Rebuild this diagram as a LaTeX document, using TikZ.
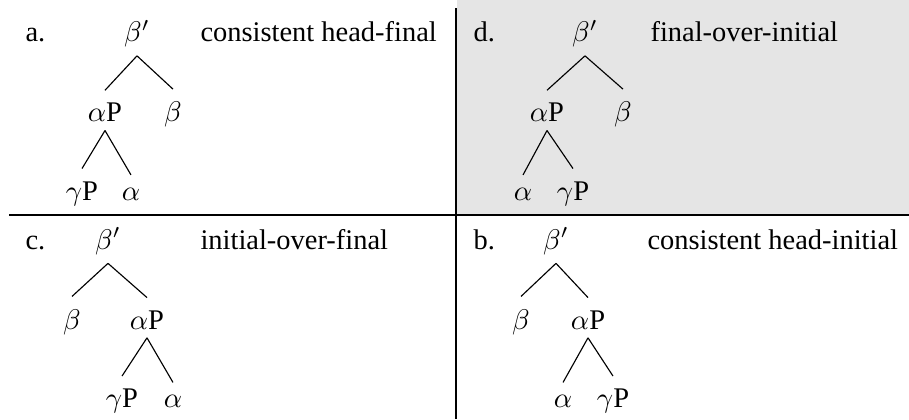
\documentclass[tikz,border=0pt]{standalone}
\usepackage{fontspec}
\setmainfont{Liberation Serif}
\begin{document}
\begin{tikzpicture}[x=0.3515pt,y=-0.3515pt,
  lab/.style={anchor=base west,inner sep=0pt,font=\fontsize{10}{12}\selectfont},
  tn/.style={anchor=base,inner sep=2.9pt,font=\fontsize{10}{12}\selectfont},
  edge/.style={draw=black,line width=0.4pt},
  sep/.style={draw=black,line width=0.6pt}]
\useasboundingbox (0,0) rectangle (909,419);
\fill[gray!20] (457,0) rectangle (909,215);
\draw[sep] (9,215) -- (909,215);
\draw[sep] (456,8) -- (456,419);

% panel a
\node[lab] (la) at (25,41.5) {a.};
\node[lab] (ta) at (200,41.5) {consistent head-final};
\node[tn] (a0) at (137,41.5) {$\beta'$};
\node[tn] (a1) at (105,121.7) {$\alpha$P};
\node[tn] (a2) at (173,121.7) {$\beta$};
\node[tn] (a3) at (82,200) {$\gamma$P};
\node[tn] (a4) at (131,200) {$\alpha$};
\draw[edge] (a0.south) -- ([yshift=1.4pt]a1.north);
\draw[edge] (a0.south) -- ([yshift=1.4pt]a2.north);
\draw[edge] (a1.south) -- ([yshift=1.4pt]a3.north);
\draw[edge] (a1.south) -- ([yshift=1.4pt]a4.north);

% panel d
\node[lab] (ld) at (473,41.5) {d.};
\node[lab] (td) at (650,41.5) {final-over-initial};
\node[tn] (d0) at (585,41.5) {$\beta'$};
\node[tn] (d1) at (547,121.7) {$\alpha$P};
\node[tn] (d2) at (623,121.7) {$\beta$};
\node[tn] (d3) at (523,200) {$\alpha$};
\node[tn] (d4) at (573,200) {$\gamma$P};
\draw[edge] (d0.south) -- ([yshift=1.4pt]d1.north);
\draw[edge] (d0.south) -- ([yshift=1.4pt]d2.north);
\draw[edge] (d1.south) -- ([yshift=1.4pt]d3.north);
\draw[edge] (d1.south) -- ([yshift=1.4pt]d4.north);

% panel c
\node[lab] (lc) at (25,249) {c.};
\node[lab] (tc) at (200,249) {initial-over-final};
\node[tn] (c0) at (108,249) {$\beta'$};
\node[tn] (c1) at (72,329) {$\beta$};
\node[tn] (c2) at (147,329) {$\alpha$P};
\node[tn] (c3) at (122,407.5) {$\gamma$P};
\node[tn] (c4) at (173,407.5) {$\alpha$};
\draw[edge] (c0.south) -- ([yshift=1.4pt]c1.north);
\draw[edge] (c0.south) -- ([yshift=1.4pt]c2.north);
\draw[edge] (c2.south) -- ([yshift=1.4pt]c3.north);
\draw[edge] (c2.south) -- ([yshift=1.4pt]c4.north);

% panel b
\node[lab] (lb) at (473,249) {b.};
\node[lab] (tb) at (647,249) {consistent head-initial};
\node[tn] (b0) at (556,249) {$\beta'$};
\node[tn] (b1) at (521,329) {$\beta$};
\node[tn] (b2) at (588,329) {$\alpha$P};
\node[tn] (b3) at (563,407.5) {$\alpha$};
\node[tn] (b4) at (613,407.5) {$\gamma$P};
\draw[edge] (b0.south) -- ([yshift=1.4pt]b1.north);
\draw[edge] (b0.south) -- ([yshift=1.4pt]b2.north);
\draw[edge] (b2.south) -- ([yshift=1.4pt]b3.north);
\draw[edge] (b2.south) -- ([yshift=1.4pt]b4.north);
\end{tikzpicture}
\end{document}
